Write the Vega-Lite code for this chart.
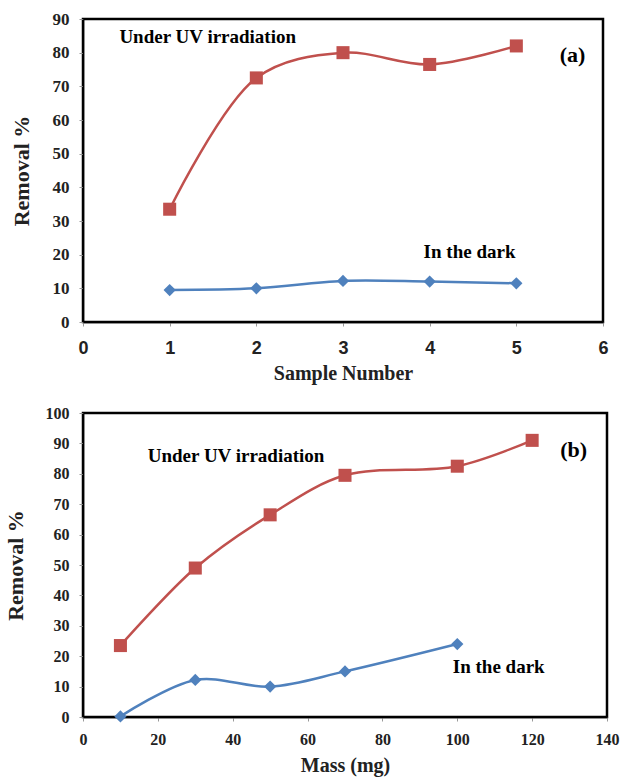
{
  "$schema": "https://vega.github.io/schema/vega-lite/v6.json",
  "padding": {"left": 2, "top": 8, "right": 5, "bottom": 0},
  "background": "white",
  "spacing": 18,
  "config": {
    "view": {"stroke": "black", "strokeWidth": 2.5},
    "axis": {"grid": false, "domainColor": "black", "domainWidth": 1.5, "tickColor": "#999", "tickSize": 4, "labelColor": "#222", "titleColor": "#222", "labelFont": "Liberation Serif", "titleFont": "Liberation Serif", "labelFontWeight": "bold", "titleFontWeight": "bold", "labelOverlap": false, "labelFlush": false, "format": "d"}
  },
  "datasets": {
    "a": [
      {"series": "UV", "x": 1, "y": 33.5},
      {"series": "UV", "x": 2, "y": 72.5},
      {"series": "UV", "x": 3, "y": 80},
      {"series": "UV", "x": 4, "y": 76.5},
      {"series": "UV", "x": 5, "y": 82},
      {"series": "Dark", "x": 1, "y": 9.5},
      {"series": "Dark", "x": 2, "y": 10},
      {"series": "Dark", "x": 3, "y": 12.2},
      {"series": "Dark", "x": 4, "y": 12},
      {"series": "Dark", "x": 5, "y": 11.5}
    ],
    "b": [
      {"series": "UV", "x": 10, "y": 23.5},
      {"series": "UV", "x": 30, "y": 49},
      {"series": "UV", "x": 50, "y": 66.5},
      {"series": "UV", "x": 70, "y": 79.5},
      {"series": "UV", "x": 100, "y": 82.5},
      {"series": "UV", "x": 120, "y": 91},
      {"series": "Dark", "x": 10, "y": 0.2},
      {"series": "Dark", "x": 30, "y": 12.2},
      {"series": "Dark", "x": 50, "y": 10},
      {"series": "Dark", "x": 70, "y": 15},
      {"series": "Dark", "x": 100, "y": 24}
    ],
    "alabels": [
      {"label": "Under UV irradiation", "x": 0.42, "y": 84.6, "size": 19},
      {"label": "(a)", "x": 5.5, "y": 79.2, "size": 22},
      {"label": "In the dark", "x": 3.93, "y": 20.7, "size": 19}
    ],
    "blabels": [
      {"label": "Under UV irradiation", "x": 17.3, "y": 85.9, "size": 19},
      {"label": "(b)", "x": 127.5, "y": 87.9, "size": 22},
      {"label": "In the dark", "x": 98.8, "y": 16.4, "size": 19}
    ]
  },
  "vconcat": [
    {
      "width": 520,
      "height": 303,
      "encoding": {
        "x": {"field": "x", "type": "quantitative", "scale": {"domain": [0, 6]}, "axis": {"title": "Sample Number", "values": [0,1,2,3,4,5,6], "labelFont": "Liberation Sans", "labelFontSize": 18, "labelPadding": 13, "titlePadding": 6, "titleFontSize": 20}},
        "y": {"field": "y", "type": "quantitative", "scale": {"domain": [0, 90]}, "axis": {"title": "Removal %", "values": [0,10,20,30,40,50,60,70,80,90], "tickCount": 10, "labelFontSize": 17, "labelPadding": 10, "titleFontSize": 22, "titlePadding": 19}}
      },
      "layer": [
        {
          "data": {"name": "a"},
          "mark": {"type": "line", "interpolate": "catmull-rom", "strokeWidth": 2.5},
          "encoding": {
            "color": {"field": "series", "type": "nominal", "scale": {"domain": ["UV", "Dark"], "range": ["#C0504D", "#4F81BD"]}, "legend": null}
          }
        },
        {
          "data": {"name": "a"},
          "mark": {"type": "point", "filled": true, "opacity": 1},
          "encoding": {
            "color": {"field": "series", "type": "nominal", "scale": {"domain": ["UV", "Dark"], "range": ["#C0504D", "#4F81BD"]}, "legend": null},
            "shape": {"field": "series", "type": "nominal", "scale": {"domain": ["UV", "Dark"], "range": ["square", "diamond"]}, "legend": null},
            "size": {"field": "series", "type": "nominal", "scale": {"domain": ["UV", "Dark"], "range": [170, 150]}, "legend": null}
          }
        },
        {
          "data": {"name": "alabels"},
          "mark": {"type": "text", "align": "left", "baseline": "middle", "font": "Liberation Serif", "fontWeight": "bold", "color": "black"},
          "encoding": {
            "text": {"field": "label"},
            "size": {"field": "size", "type": "quantitative", "scale": null}
          }
        }
      ]
    },
    {
      "width": 524,
      "height": 304,
      "encoding": {
        "x": {"field": "x", "type": "quantitative", "scale": {"domain": [0, 140]}, "axis": {"title": "Mass (mg)", "values": [0,20,40,60,80,100,120,140], "labelFontSize": 16, "titleFontSize": 20, "labelPadding": 10, "titlePadding": 8}},
        "y": {"field": "y", "type": "quantitative", "scale": {"domain": [0, 100]}, "axis": {"title": "Removal %", "values": [0,10,20,30,40,50,60,70,80,90,100], "tickCount": 11, "labelFontSize": 16, "labelPadding": 10, "titleFontSize": 22, "titlePadding": 18}}
      },
      "layer": [
        {
          "data": {"name": "b"},
          "mark": {"type": "line", "interpolate": "catmull-rom", "strokeWidth": 2.5},
          "encoding": {
            "color": {"field": "series", "type": "nominal", "scale": {"domain": ["UV", "Dark"], "range": ["#C0504D", "#4F81BD"]}, "legend": null}
          }
        },
        {
          "data": {"name": "b"},
          "mark": {"type": "point", "filled": true, "opacity": 1},
          "encoding": {
            "color": {"field": "series", "type": "nominal", "scale": {"domain": ["UV", "Dark"], "range": ["#C0504D", "#4F81BD"]}, "legend": null},
            "shape": {"field": "series", "type": "nominal", "scale": {"domain": ["UV", "Dark"], "range": ["square", "diamond"]}, "legend": null},
            "size": {"field": "series", "type": "nominal", "scale": {"domain": ["UV", "Dark"], "range": [170, 150]}, "legend": null}
          }
        },
        {
          "data": {"name": "blabels"},
          "mark": {"type": "text", "align": "left", "baseline": "middle", "font": "Liberation Serif", "fontWeight": "bold", "color": "black"},
          "encoding": {
            "text": {"field": "label"},
            "size": {"field": "size", "type": "quantitative", "scale": null}
          }
        }
      ]
    }
  ]
}
